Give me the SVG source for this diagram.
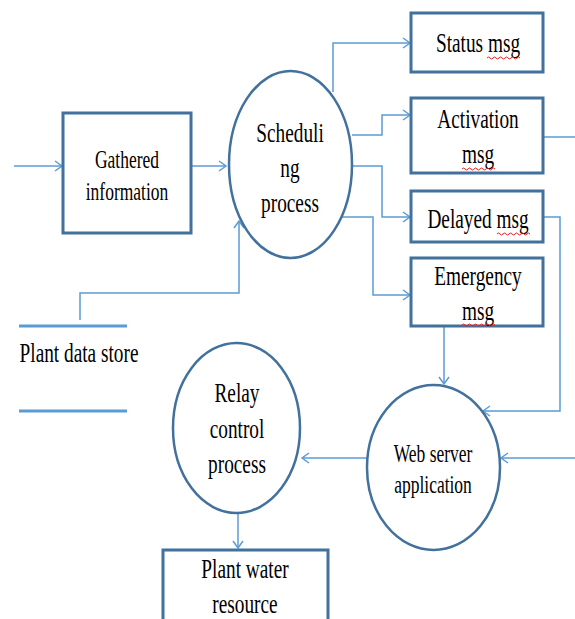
<svg xmlns="http://www.w3.org/2000/svg" width="575" height="619" viewBox="0 0 575 619">
<style>
.box{fill:#fff;stroke:#41719C;stroke-width:3}
.proc{fill:#fff;stroke:#41719C;stroke-width:2.5}
.con{fill:none;stroke:#5B9BD5;stroke-width:1.5}
.store{stroke:#5B9BD5;stroke-width:3}
.t{font-family:"Liberation Serif","Times New Roman",serif;font-size:19.3px;fill:#000;text-anchor:middle}
.s{font-size:17.5px}
.sq{fill:none;stroke:#e02020;stroke-width:1}
</style>
<defs>
<marker id="arr" markerWidth="10" markerHeight="12" refX="8" refY="6" orient="auto" markerUnits="userSpaceOnUse">
<path d="M1,1 L8,6 L1,11" fill="none" stroke="#5B9BD5" stroke-width="1.5"/>
</marker>
</defs>
<rect width="575" height="619" fill="#fff"/>
<g id="connectors">
<path class="con" d="M14,166 H62" marker-end="url(#arr)"/>
<path class="con" d="M191,166 H226" marker-end="url(#arr)"/>
<path class="con" d="M80,320 V293 H239 V221" marker-end="url(#arr)"/>
<path class="con" d="M333,92 V43 H410" marker-end="url(#arr)"/>
<path class="con" d="M352,135 H382 V115 H410" marker-end="url(#arr)"/>
<path class="con" d="M352,166 H382 V217 H410" marker-end="url(#arr)"/>
<path class="con" d="M333,217 H373 V295 H410" marker-end="url(#arr)"/>
<path class="con" d="M543,137 H575"/>
<path class="con" d="M543,217 H560 V411 H483" marker-end="url(#arr)"/>
<path class="con" d="M444,326 V384" marker-end="url(#arr)"/>
<path class="con" d="M575,458 H501" marker-end="url(#arr)"/>
<path class="con" d="M367,458 H302" marker-end="url(#arr)"/>
<path class="con" d="M238,513 V548" marker-end="url(#arr)"/>
</g>
<g id="gathered">
<rect class="box" x="63" y="113" width="128" height="120"/>
<text class="t s" transform="translate(127,168) scale(1,1.5)">Gathered</text>
<text class="t s" transform="translate(127,200) scale(1,1.5)">information</text>
</g>
<g id="scheduling">
<ellipse class="proc" cx="290.5" cy="164.5" rx="61.5" ry="93.5"/>
<text class="t" transform="translate(290,142) scale(1,1.45)">Scheduli</text>
<text class="t" transform="translate(290,177) scale(1,1.45)">ng</text>
<text class="t" transform="translate(290,212) scale(1,1.45)">process</text>
</g>
<g id="status">
<rect class="box" x="411" y="13" width="132" height="59"/>
<text class="t" transform="translate(478,51.7) scale(1,1.45)">Status msg</text>
<path class="sq" d="M487,58 q1.5,-2 3,0 t3,0 t3,0 t3,0 t3,0 t3,0 t3,0 t3,0 t3,0 t3,0 t3,0"/>
</g>
<g id="activation">
<rect class="box" x="411" y="98" width="132" height="75"/>
<text class="t" transform="translate(478,128) scale(1,1.45)">Activation</text>
<text class="t" transform="translate(478,163) scale(1,1.45)">msg</text>
<path class="sq" d="M462,169 q1.5,-2 3,0 t3,0 t3,0 t3,0 t3,0 t3,0 t3,0 t3,0 t3,0 t3,0 t3,0"/>
</g>
<g id="delayed">
<rect class="box" x="411" y="191" width="132" height="51"/>
<text class="t" transform="translate(478,228) scale(1,1.45)">Delayed msg</text>
<path class="sq" d="M497,234 q1.5,-2 3,0 t3,0 t3,0 t3,0 t3,0 t3,0 t3,0 t3,0 t3,0 t3,0 t3,0"/>
</g>
<g id="emergency">
<rect class="box" x="411" y="258" width="132" height="68"/>
<text class="t" transform="translate(478,285) scale(1,1.45)">Emergency</text>
<text class="t" transform="translate(478,320) scale(1,1.45)">msg</text>
<path class="sq" d="M462,325 q1.5,-2 3,0 t3,0 t3,0 t3,0 t3,0 t3,0 t3,0 t3,0 t3,0 t3,0 t3,0"/>
</g>
<g id="datastore">
<line class="store" x1="19" y1="326" x2="127" y2="326"/>
<line class="store" x1="19" y1="411" x2="127" y2="411"/>
<text class="t" transform="translate(79,361.7) scale(1,1.45)">Plant data store</text>
</g>
<g id="webserver">
<ellipse class="proc" cx="433.5" cy="467.5" rx="66.5" ry="82.5"/>
<text class="t s" transform="translate(433,462) scale(1,1.4)">Web server</text>
<text class="t s" transform="translate(433,493) scale(1,1.4)">application</text>
</g>
<g id="relay">
<ellipse class="proc" cx="236.5" cy="428" rx="63.5" ry="85"/>
<text class="t" transform="translate(237,402) scale(1,1.45)">Relay</text>
<text class="t" transform="translate(237,438) scale(1,1.45)">control</text>
<text class="t" transform="translate(237,473) scale(1,1.45)">process</text>
</g>
<g id="plantwater">
<rect class="box" x="163" y="550" width="165" height="80"/>
<text class="t" transform="translate(245,578) scale(1,1.45)">Plant water</text>
<text class="t" transform="translate(245,613) scale(1,1.4)">resource</text>
</g>
</svg>
